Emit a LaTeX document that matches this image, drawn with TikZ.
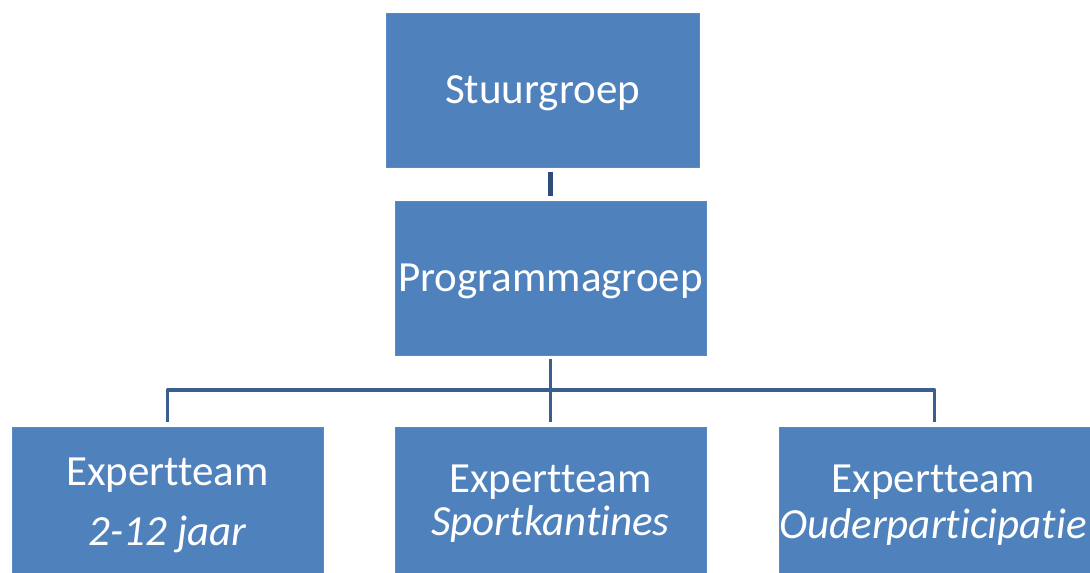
\documentclass[tikz,border=0pt]{standalone}
\usepackage{fontspec}
\setmainfont[Ligatures={NoCommon,TeX}]{Carlito}
\definecolor{boxblue}{HTML}{4F81BD}
\definecolor{boxedge}{HTML}{5A8AC4}
\definecolor{topline}{HTML}{2E4D78}
\definecolor{treeline}{HTML}{3A5F8E}
\begin{document}
\begin{tikzpicture}[x=1pt,y=-1pt,
  orgbox/.style={draw=boxedge,line width=0.8pt,fill=boxblue,minimum width=311pt,minimum height=154pt,inner sep=0pt,outer sep=0pt},
  lbl/.style={text=white,font=\fontsize{43}{52}\selectfont,anchor=base,inner sep=0pt},
  toplink/.style={draw=topline,line width=4.5pt},
  treelink/.style={draw=treeline,line width=3.3pt}]
\useasboundingbox (0,0) rectangle (1090,573);
\clip (0,0) rectangle (1090,573);
\node[orgbox,minimum width=313pt] (s) at (542.5,90) {};
\node[orgbox] (p) at (550.5,278) {};
\node[orgbox] (b1) at (167.5,504) {};
\node[orgbox] (b2) at (550.5,504) {};
\node[orgbox] (b3) at (934.5,504) {};
\coordinate (j) at (550.5,390);
\node[lbl] (ts) at (542.5,103) {Stuurgroep};
\node[lbl] (tp) at (550.5,291) {Programmagroep};
\node[lbl] (t1a) at (167.5,485) {Expertteam};
\node[lbl] (t1b) at (167.5,545) {\itshape 2-12 jaar};
\node[lbl] (t2a) at (550.5,492) {Expertteam};
\node[lbl] (t2b) at (550.5,535) {\itshape Sportkantines};
\node[lbl] (t3a) at (933,492) {Expertteam};
\node[lbl] (t3b) at (933,538) {\itshape Ouderparticipatie};
\draw[toplink] ([yshift=-5pt]p.north |- s.south) -- ([yshift=5pt]p.north);
\draw[treelink] ([yshift=-4pt]p.south) -- ([yshift=5pt]b2.north);
\draw[treelink,line join=round] ([yshift=5pt]b1.north) |- (j) -| ([yshift=5pt]b3.north);
\end{tikzpicture}
\end{document}
